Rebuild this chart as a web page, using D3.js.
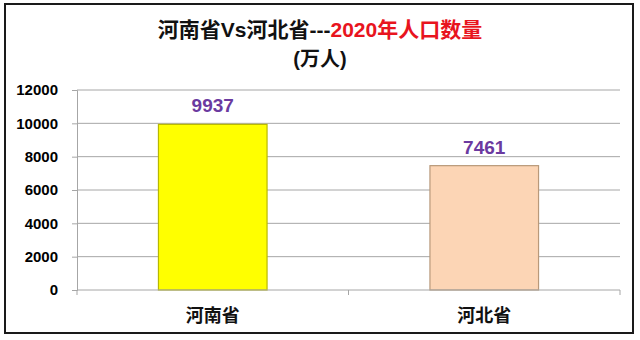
<!DOCTYPE html>
<html>
<head>
<meta charset="utf-8">
<script src="https://cdn.jsdelivr.net/npm/d3@7/dist/d3.min.js"></script>
<style>
  html, body { margin: 0; padding: 0; background: #fff; }
  svg { display: block; }
  text { font-family: "Liberation Sans", "Noto Sans CJK SC", sans-serif; }
</style>
</head>
<body>
<svg id="chart" width="640" height="340"></svg>
<script>
// Population of two provinces in 2020 (unit: 10,000 people)
const categories = ["河南省", "河北省"];
const values = [9937, 7461];
const barColors = ["#FFFF00", "#FCD5B5"];
const barStrokes = ["#B8B800", "#B8997A"];
const yTicks = [0, 2000, 4000, 6000, 8000, 10000, 12000];

const svg = d3.select("#chart");
const W = 640, H = 340;
const plot = { left: 77, right: 620, top: 90, bottom: 290 };

svg.append("rect").attr("width", W).attr("height", H).attr("fill", "#fff");

// Outer frame
svg.append("rect")
  .attr("x", 5).attr("y", 4).attr("width", 628).attr("height", 329)
  .attr("fill", "none").attr("stroke", "#1a1a1a").attr("stroke-width", 2);

const x = d3.scaleBand().domain(categories).range([plot.left, plot.right]).padding(0);
const y = d3.scaleLinear().domain([0, 12000]).range([plot.bottom, plot.top]);

// Gridlines
svg.append("g")
  .selectAll("line").data(yTicks.filter(d => d > 0)).join("line")
  .attr("x1", plot.left).attr("x2", plot.right)
  .attr("y1", d => y(d)).attr("y2", d => y(d))
  .attr("stroke", "#a6a6a6").attr("stroke-width", 1);

// Y axis
const yAxis = d3.axisLeft(y).tickValues(yTicks).tickSize(5).tickPadding(14)
  .tickFormat(d3.format("d"));
const gy = svg.append("g").attr("transform", `translate(${plot.left},0)`).call(yAxis);
gy.select(".domain").attr("stroke", "#a6a6a6");
gy.selectAll(".tick line").attr("stroke", "#a6a6a6");
gy.selectAll(".tick text")
  .attr("fill", "#000").attr("font-size", 15).attr("font-weight", "bold")
  .attr("font-family", "Liberation Sans, sans-serif");

// Bars
const barW = x.bandwidth() * 0.4;
svg.append("g").selectAll("rect").data(values).join("rect")
  .attr("x", (d, i) => x(categories[i]) + (x.bandwidth() - barW) / 2)
  .attr("y", d => y(d))
  .attr("width", barW)
  .attr("height", d => y(0) - y(d))
  .attr("fill", (d, i) => barColors[i])
  .attr("stroke", (d, i) => barStrokes[i])
  .attr("stroke-width", 1.2);

// X axis with ticks at category boundaries
svg.append("line")
  .attr("x1", plot.left).attr("x2", plot.right)
  .attr("y1", y(0)).attr("y2", y(0))
  .attr("stroke", "#a6a6a6");
const bounds = categories.map(c => x(c)).concat([x(categories[categories.length - 1]) + x.bandwidth()]);
svg.append("g").selectAll("line").data(bounds).join("line")
  .attr("x1", d => d).attr("x2", d => d)
  .attr("y1", y(0)).attr("y2", y(0) + 5)
  .attr("stroke", "#a6a6a6");

// Category labels
svg.append("g").selectAll("text").data(categories).join("text")
  .attr("x", d => x(d) + x.bandwidth() / 2)
  .attr("y", 322)
  .attr("text-anchor", "middle")
  .attr("font-size", 18).attr("font-weight", "bold")
  .attr("font-family", "Noto Sans CJK SC, sans-serif")
  .attr("fill", "#111")
  .text(d => d);

// Value labels
svg.append("g").selectAll("text").data(values).join("text")
  .attr("x", (d, i) => x(categories[i]) + x.bandwidth() / 2)
  .attr("y", d => y(d) - 12)
  .attr("text-anchor", "middle")
  .attr("font-size", 19).attr("font-weight", "bold")
  .attr("fill", "#6B3AA0")
  .text(d => d);

// Title
const title = svg.append("text")
  .attr("x", 320).attr("y", 37)
  .attr("text-anchor", "middle")
  .attr("font-size", 21).attr("font-weight", "bold");
title.append("tspan").attr("fill", "#111").text("河南省Vs河北省---");
title.append("tspan").attr("fill", "#E8141E").text("2020年人口数量");

svg.append("text")
  .attr("x", 320).attr("y", 66)
  .attr("text-anchor", "middle")
  .attr("font-size", 20).attr("font-weight", "bold")
  .attr("fill", "#111")
  .text("(万人)");
</script>
</body>
</html>
